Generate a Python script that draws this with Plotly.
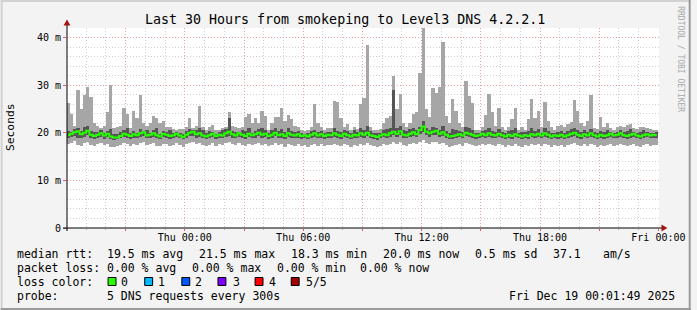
import plotly.graph_objects as go
import pandas as pd

# ---------------- data (milliseconds), 10-minute steps ----------------
start_time = "2025-12-17 18:05:00"
n_steps = 180

ping_max = [
    26.2, 24.0, 21.5, 29.0, 25.0, 28.0, 29.6, 27.5, 22.0, 21.5,
    21.0, 21.5, 24.3, 30.0, 21.0, 21.2, 21.5, 25.3, 24.0, 21.0,
    24.6, 23.0, 27.9, 22.0, 21.5, 22.0, 23.5, 23.0, 22.0, 22.5,
    21.3, 21.3, 20.8, 20.5, 20.8, 20.8, 21.2, 23.0, 21.0, 21.5,
    25.6, 21.3, 20.6, 21.3, 21.6, 20.6, 20.6, 21.0, 21.3, 24.4,
    21.5, 21.3, 21.0, 21.3, 23.3, 24.0, 22.0, 23.0, 22.0, 24.5,
    23.6, 20.6, 22.0, 23.3, 23.3, 25.3, 22.5, 23.8, 22.8, 21.5,
    21.3, 20.6, 20.3, 20.6, 21.3, 26.0, 22.0, 21.3, 20.6, 21.0,
    21.0, 26.7, 26.5, 23.0, 21.3, 21.8, 20.6, 21.3, 20.8, 26.0,
    27.3, 38.4, 21.3, 20.6, 20.6, 20.8, 22.0, 23.0, 23.6, 31.9,
    25.0, 28.1, 22.0, 21.3, 22.0, 24.0, 24.4, 32.5, 42.0, 25.0,
    23.4, 29.4, 28.3, 29.6, 39.0, 23.5, 22.0, 27.0, 24.5, 22.0,
    21.3, 30.9, 27.7, 26.2, 20.6, 20.5, 21.3, 23.7, 28.1, 24.4,
    21.5, 25.2, 21.3, 20.6, 21.3, 22.8, 25.2, 20.6, 21.3, 20.5,
    22.8, 27.0, 23.0, 24.6, 21.3, 26.5, 22.5, 21.3, 20.6, 21.5,
    21.6, 21.3, 21.8, 22.3, 26.8, 24.5, 22.0, 21.5, 22.5, 27.9,
    21.0, 20.8, 23.3, 21.3, 22.0, 21.0, 20.5, 21.3, 21.5, 21.3,
    21.6, 21.8, 21.0, 20.8, 21.3, 21.3, 21.0, 20.8, 20.6, 20.6,
]

ping_upper = [
    20.4, 20.2, 20.7, 21.0, 20.3, 21.3, 21.5, 20.4, 20.1, 20.2,
    20.5, 19.9, 20.4, 20.8, 19.8, 19.7, 20.2, 20.6, 21.0, 19.9,
    20.3, 20.0, 20.8, 20.4, 20.6, 20.0, 20.5, 20.9, 19.8, 20.4,
    20.1, 20.6, 19.9, 20.2, 20.0, 19.7, 20.4, 20.7, 20.6, 20.5,
    21.0, 20.6, 19.9, 20.3, 20.1, 19.8, 20.2, 20.5, 20.7, 23.0,
    20.4, 20.1, 20.2, 20.6, 20.3, 20.9, 20.0, 20.4, 20.7, 21.0,
    20.6, 20.0, 20.5, 20.9, 20.3, 20.7, 20.1, 21.0, 20.4, 20.2,
    20.3, 19.9, 19.8, 20.0, 20.4, 20.6, 20.1, 20.3, 19.9, 20.2,
    20.1, 20.9, 20.4, 20.2, 20.6, 20.3, 19.9, 20.5, 20.1, 21.0,
    20.6, 21.4, 20.3, 19.9, 20.0, 20.0, 20.5, 20.7, 20.9, 29.0,
    21.0, 21.5, 20.5, 20.3, 20.7, 21.0, 20.6, 21.3, 22.5, 20.9,
    20.5, 21.2, 21.0, 20.6, 21.5, 20.4, 19.9, 20.8, 20.6, 20.3,
    20.1, 21.3, 20.9, 20.6, 20.0, 20.0, 20.4, 20.5, 21.0, 20.4,
    20.2, 20.7, 20.1, 19.9, 20.3, 20.6, 20.9, 20.0, 20.1, 20.1,
    20.4, 21.0, 20.3, 20.7, 20.0, 20.9, 20.4, 20.0, 19.9, 20.2,
    20.3, 20.0, 20.4, 20.7, 21.0, 20.5, 20.1, 20.5, 20.2, 20.8,
    20.1, 19.9, 20.4, 20.2, 20.5, 20.1, 19.9, 20.2, 20.5, 20.2,
    20.4, 20.7, 20.1, 20.0, 20.2, 20.5, 20.1, 20.0, 19.9, 20.1,
]

median_rtt = [
    19.5, 19.8, 20.1, 20.3, 19.7, 20.0, 20.4, 19.6, 19.3, 19.6,
    19.9, 19.4, 19.8, 19.2, 19.0, 19.0, 19.3, 19.8, 19.6, 19.3,
    19.7, 19.5, 19.9, 20.1, 19.4, 19.6, 19.9, 19.5, 19.2, 19.8,
    19.6, 19.3, 19.5, 19.8, 19.4, 19.1, 19.6, 20.0, 20.2, 19.7,
    19.9, 19.4, 19.2, 19.5, 19.8, 19.3, 19.6, 19.4, 19.9, 20.2,
    19.7, 19.4, 19.9, 19.6, 19.3, 19.8, 19.5, 19.7, 20.0, 19.6,
    19.8, 19.3, 19.6, 20.0, 19.5, 19.7, 19.3, 19.9, 19.6, 19.4,
    19.7, 19.3, 19.5, 19.2, 19.6, 19.9, 19.4, 19.7, 19.3, 19.6,
    19.5, 19.9, 19.6, 19.3, 19.8, 19.5, 19.2, 19.6, 19.4, 19.9,
    19.6, 20.0, 19.5, 19.3, 19.1, 19.4, 19.7, 19.5, 19.9, 20.2,
    19.8, 20.3, 19.6, 19.4, 19.8, 20.1, 19.7, 20.6, 21.3, 20.2,
    19.9, 20.2, 20.4, 19.8, 20.1, 19.6, 19.2, 19.3, 19.5, 19.7,
    19.4, 20.0, 19.8, 19.6, 19.3, 19.5, 19.8, 19.5, 19.9, 19.6,
    19.4, 19.8, 19.5, 19.2, 19.6, 19.3, 19.7, 19.4, 19.2, 19.5,
    19.3, 19.7, 19.5, 19.8, 19.4, 19.9, 19.6, 19.2, 19.5, 19.3,
    19.6, 19.2, 19.5, 19.8, 20.0, 19.6, 19.3, 19.7, 19.4, 19.9,
    19.5, 19.2, 19.6, 19.3, 19.5, 19.8, 19.4, 19.6, 19.9, 19.5,
    19.3, 19.6, 19.8, 19.4, 19.2, 19.5, 19.7, 19.4, 19.6, 19.5,
]

ping_lower = [
    18.9, 19.1, 19.4, 18.9, 18.8, 19.2, 19.5, 19.0, 18.7, 18.9,
    19.2, 18.7, 19.1, 18.6, 18.5, 18.6, 18.8, 19.1, 19.0, 18.7,
    19.0, 18.9, 19.2, 19.3, 18.8, 18.9, 19.2, 18.9, 18.6, 19.1,
    19.0, 18.7, 18.9, 19.1, 18.8, 18.6, 19.0, 19.3, 19.4, 19.0,
    19.2, 18.8, 18.6, 18.9, 19.1, 18.7, 19.0, 18.8, 19.2, 19.4,
    19.0, 18.8, 19.2, 19.0, 18.7, 19.1, 18.9, 19.0, 19.3, 19.0,
    19.1, 18.7, 18.9, 19.3, 18.9, 19.0, 18.7, 19.2, 18.9, 18.8,
    19.0, 18.7, 18.9, 18.6, 19.0, 19.2, 18.8, 19.0, 18.7, 19.0,
    18.9, 19.2, 19.0, 18.7, 19.1, 18.9, 18.6, 19.0, 18.8, 19.2,
    19.0, 19.3, 18.9, 18.7, 18.5, 18.8, 19.1, 18.9, 19.2, 19.5,
    19.2, 19.5, 19.0, 18.8, 19.2, 19.4, 19.1, 19.7, 20.2, 19.5,
    19.2, 19.5, 19.6, 19.2, 19.4, 19.0, 18.6, 18.7, 18.9, 19.1,
    18.8, 19.3, 19.2, 19.0, 18.7, 18.9, 19.2, 18.9, 19.2, 19.0,
    18.8, 19.2, 18.9, 18.6, 19.0, 18.7, 19.1, 18.8, 18.6, 18.9,
    18.7, 19.1, 18.9, 19.2, 18.8, 19.2, 19.0, 18.6, 18.9, 18.7,
    19.0, 18.6, 18.9, 19.2, 19.3, 19.0, 18.7, 19.1, 18.8, 19.2,
    18.9, 18.6, 19.0, 18.7, 18.9, 19.2, 18.8, 19.0, 19.2, 18.9,
    18.7, 19.0, 19.2, 18.8, 18.6, 18.9, 19.1, 18.8, 19.0, 18.9,
]

ping_min = [
    17.6, 17.9, 18.2, 17.4, 17.3, 17.8, 18.1, 17.5, 17.2, 17.7,
    17.9, 17.4, 17.6, 17.1, 17.0, 17.3, 17.5, 17.8, 17.6, 17.2,
    17.7, 17.5, 17.9, 18.1, 17.4, 17.6, 17.8, 17.3, 17.2, 17.7,
    17.6, 17.3, 17.5, 17.8, 17.4, 17.1, 17.6, 17.9, 18.1, 17.7,
    17.8, 17.4, 17.2, 17.5, 17.8, 17.3, 17.6, 17.4, 17.8, 18.0,
    17.7, 17.4, 17.8, 17.5, 17.2, 17.6, 17.4, 17.7, 17.9, 17.5,
    17.6, 17.2, 17.5, 17.8, 17.4, 17.6, 17.1, 17.7, 17.5, 17.3,
    17.6, 17.2, 17.4, 17.0, 17.5, 17.7, 17.3, 17.6, 17.2, 17.5,
    17.4, 17.7, 17.5, 17.2, 17.6, 17.4, 17.0, 17.5, 17.3, 17.7,
    17.5, 17.8, 17.4, 17.2, 17.0, 17.3, 17.6, 17.4, 17.7, 18.0,
    17.7, 18.0, 17.5, 17.3, 17.7, 17.9, 17.6, 18.1, 18.4, 17.9,
    17.7, 18.0, 18.1, 17.6, 17.9, 17.5, 17.1, 17.2, 17.4, 17.6,
    17.3, 17.8, 17.6, 17.5, 17.2, 17.4, 17.7, 17.4, 17.7, 17.5,
    17.3, 17.7, 17.4, 17.1, 17.5, 17.2, 17.6, 17.3, 17.0, 17.4,
    17.2, 17.6, 17.4, 17.7, 17.3, 17.7, 17.5, 17.1, 17.4, 17.2,
    17.5, 17.1, 17.4, 17.7, 17.8, 17.5, 17.2, 17.6, 17.3, 17.7,
    17.4, 17.1, 17.5, 17.2, 17.4, 17.7, 17.3, 17.5, 17.7, 17.4,
    17.2, 17.5, 17.7, 17.3, 17.1, 17.4, 17.6, 17.3, 17.5, 17.4,
]

y_tick_vals = [0, 10, 20, 30, 40]
y_tick_text = ["0", "10 m", "20 m", "30 m", "40 m"]
x_tick_vals = ["2025-12-17 21:00", "2025-12-18 00:00", "2025-12-18 03:00",
               "2025-12-18 06:00", "2025-12-18 09:00", "2025-12-18 12:00",
               "2025-12-18 15:00", "2025-12-18 18:00", "2025-12-18 21:00",
               "2025-12-19 00:00"]
x_tick_text = ["", "Thu 00:00", "", "Thu 06:00", "", "Thu 12:00", "",
               "Thu 18:00", "", "Fri 00:00"]

loss_labels = ["0", "1", "2", "3", "4", "5/5"]
loss_colors = ["#26ff00", "#00b8ff", "#0059ff", "#7e00ff", "#ff0000", "#a10000"]

# ---------------- layout geometry (pixels) ----------------
W, H = 697, 310
L, R, T, B = 67, 665, 28, 228
MONO = "DejaVu Sans Mono"


def px(x):
    return (x - L) / (R - L)


def py(y):
    return (B - y) / (B - T)


times = pd.date_range(start_time, periods=n_steps, freq="10min")
step_ms = 600000

fig = go.Figure()
fig.add_trace(go.Bar(
    x=times, y=[a - b for a, b in zip(ping_max, ping_min)], base=ping_min,
    width=step_ms, marker=dict(color="#a6a6a6", line=dict(width=0)),
    hoverinfo="skip", showlegend=False))
fig.add_trace(go.Bar(
    x=times, y=[a - b for a, b in zip(ping_upper, ping_lower)], base=ping_lower,
    width=step_ms, marker=dict(color="#555555", line=dict(width=0)),
    hoverinfo="skip", showlegend=False))
fig.add_trace(go.Scatter(
    x=times, y=median_rtt, mode="lines", line=dict(color="#26ff00", width=2, shape="hvh"),
    hoverinfo="skip", showlegend=False))

major_grid = "#eaa0a0"
minor_grid = "#cfcfcf"

fig.update_layout(
    width=W, height=H,
    margin=dict(l=L, r=W - R, t=T, b=H - B, pad=0),
    paper_bgcolor="#f3f3f3", plot_bgcolor="#ffffff",
    barmode="overlay", bargap=0, hovermode=False, showlegend=False,
    font=dict(family=MONO, color="#000000", size=10),
    xaxis=dict(
        type="date", range=["2025-12-17 18:01:49", "2025-12-19 00:01:49"],
        tickmode="array", tickvals=x_tick_vals, ticktext=x_tick_text,
        showgrid=True, gridcolor=major_grid, griddash="1px,2px", gridwidth=1,
        ticks="outside", ticklen=2, tickcolor="#e06060", tickwidth=1,
        ticklabelstandoff=-2,
        tickfont=dict(family=MONO, size=10, color="#000000"),
        showline=False, zeroline=False, fixedrange=True,
        minor=dict(dtick=3600000, tick0="2025-12-17 00:00", showgrid=True,
                   gridcolor=minor_grid, griddash="1px,2px", gridwidth=1,
                   ticks="outside", ticklen=1, tickcolor="#b0b0b0"),
    ),
    yaxis=dict(
        range=[0, 42], tickmode="array", tickvals=y_tick_vals, ticktext=y_tick_text,
        showgrid=True, gridcolor=major_grid, griddash="1px,2px", gridwidth=1,
        ticks="outside", ticklen=3, tickcolor="#e06060", tickwidth=1,
        tickfont=dict(family=MONO, size=10, color="#000000"),
        showline=False, zeroline=False, fixedrange=True,
        minor=dict(dtick=2, showgrid=True, gridcolor=minor_grid,
                   griddash="1px,2px", gridwidth=1),
    ),
)

shapes = []
# axis lines
shapes.append(dict(type="line", xref="paper", yref="paper",
                   x0=px(63), x1=px(668), y0=py(228), y1=py(228),
                   line=dict(color="#000000", width=1)))
shapes.append(dict(type="line", xref="paper", yref="paper",
                   x0=px(67), x1=px(67), y0=py(231), y1=py(24),
                   line=dict(color="#000000", width=1)))
# arrows
arrow_col = "#a31515"
shapes.append(dict(type="path", xref="paper", yref="paper",
                   path=f"M {px(63.5)} {py(25.5)} L {px(70.5)} {py(25.5)} L {px(67)} {py(19.5)} Z",
                   fillcolor=arrow_col, line=dict(color=arrow_col, width=0)))
shapes.append(dict(type="path", xref="paper", yref="paper",
                   path=f"M {px(667.5)} {py(224.5)} L {px(667.5)} {py(231.5)} L {px(673.5)} {py(228)} Z",
                   fillcolor=arrow_col, line=dict(color=arrow_col, width=0)))
# frame around image
shapes.append(dict(type="line", xref="paper", yref="paper",
                   x0=px(0), x1=px(W), y0=py(1), y1=py(1),
                   line=dict(color="#d2d2d2", width=2)))
shapes.append(dict(type="line", xref="paper", yref="paper",
                   x0=px(1), x1=px(1), y0=py(0), y1=py(H),
                   line=dict(color="#d2d2d2", width=2)))
shapes.append(dict(type="line", xref="paper", yref="paper",
                   x0=px(0), x1=px(W), y0=py(H - 1), y1=py(H - 1),
                   line=dict(color="#9a9a9a", width=2)))
shapes.append(dict(type="line", xref="paper", yref="paper",
                   x0=px(W - 1), x1=px(W - 1), y0=py(0), y1=py(H),
                   line=dict(color="#9a9a9a", width=2)))

# loss colour boxes
box_x = [108.5, 145.5, 183, 219.5, 257, 293.5]
lab_x = [121.5, 159, 196.5, 234.5, 271.5, 308]
for bx, col in zip(box_x, loss_colors):
    shapes.append(dict(type="rect", xref="paper", yref="paper",
                       x0=px(bx), x1=px(bx + 8), y0=py(277.5), y1=py(285.5),
                       fillcolor=col, line=dict(color="#000000", width=1)))
fig.update_layout(shapes=shapes)

ann = []


def text(x, y, s, size=11.5, anchor="left", color="#000000", angle=0):
    ann.append(dict(xref="paper", yref="paper", x=px(x), y=py(y), text=s,
                    showarrow=False, xanchor=anchor, yanchor="middle",
                    textangle=angle, borderpad=0, borderwidth=0,
                    font=dict(family=MONO, size=size, color=color)))


text(347.5, 19, "Last 30 Hours from smokeping to Level3 DNS 4.2.2.1", size=13.3, anchor="center")
text(10, 127.5, "Seconds", size=11.3, anchor="center", angle=-90)
text(687, 59, "RRDTOOL / TOBI OETIKER", size=8, anchor="center", color="#a8a8a8", angle=90)

# legend lines
y1, y2, y3, y4 = 254, 268, 281.5, 296
text(16, y1, "median rtt:")
for xx, s in [(107, "19.5 ms avg"), (200, "21.5 ms max"), (293, "18.3 ms min"),
              (386, "20.0 ms now"), (479, "0.5 ms sd"), (558, "37.1"), (608, "am/s")]:
    text(xx, y1, s)
text(16, y2, "packet loss:")
for xx, s in [(107, "0.00 % avg"), (193.3, "0.00 % max"), (279.3, "0.00 % min"),
              (363, "0.00 % now")]:
    text(xx, y2, s)
text(16, y3, "loss color:")
for lx, s in zip(lab_x, loss_labels):
    text(lx, y3, s)
text(16, y4, "probe:")
text(107, y4, "5 DNS requests every 300s")
text(513, y4, "Fri Dec 19 00:01:49 2025")

fig.update_layout(annotations=ann)

fig.write_html("out.html", config={"displayModeBar": False, "staticPlot": True})
